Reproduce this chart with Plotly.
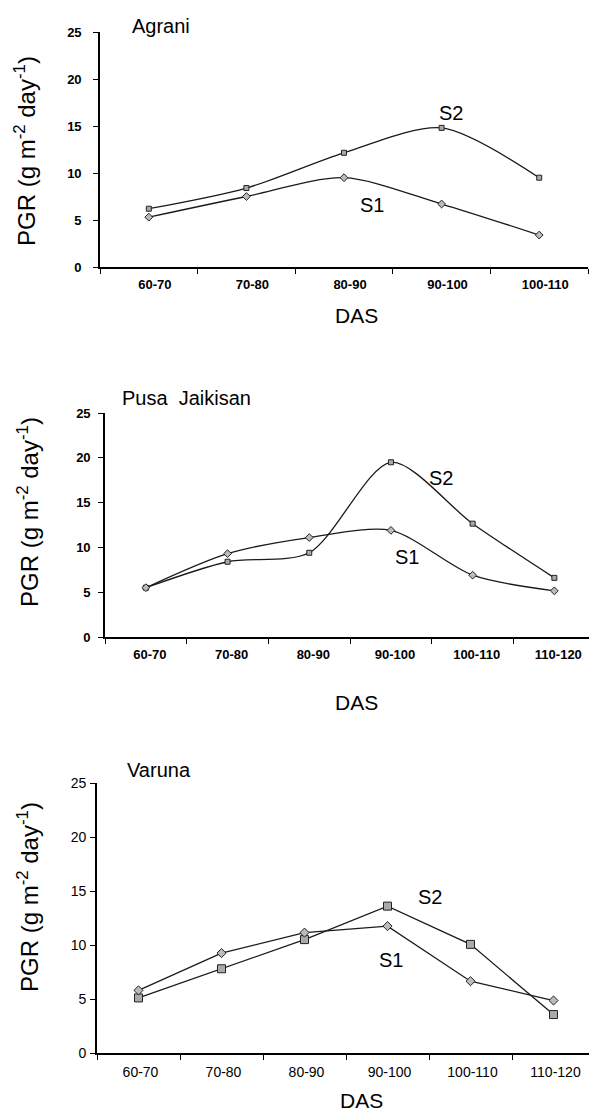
import plotly.graph_objects as go

W, H = 589, 1114

# ---- data ----
cats_a = ["60-70", "70-80", "80-90", "90-100", "100-110"]
agrani_s1 = [5.3, 7.5, 9.5, 6.7, 3.4]
agrani_s2 = [6.2, 8.4, 12.15, 14.8, 9.5]

cats_p = ["60-70", "70-80", "80-90", "90-100", "100-110", "110-120"]
pusa_s1 = [5.5, 9.3, 11.1, 11.9, 6.9, 5.15]
pusa_s2 = [5.5, 8.4, 9.4, 19.5, 12.65, 6.6]

cats_v = ["60-70", "70-80", "80-90", "90-100", "100-110", "110-120"]
varuna_s1 = [5.8, 9.25, 11.15, 11.75, 6.65, 4.86]
varuna_s2 = [5.1, 7.8, 10.5, 13.6, 10.06, 3.56]

y_ticks = [0, 5, 10, 15, 20, 25]

SANS = "Liberation Sans, Arial"

# ---- layout geometry (pixels) ----
panels = [
    dict(name="Agrani", cats=cats_a, s1=agrani_s1, s2=agrani_s2,
         x0=100, x1=588, catw=97.6, ytop=32, ybot=267, shape="spline",
         tickfont=dict(family=SANS, size=13, color="black", weight="bold"),
         xstand=5, ystand=9, shift=6,
         title_xy=(130, 26), s2_xy=(451, 113), s1_xy=(372, 205), das_xy=(357, 315), pgr_xy=(25, 151),
         msize=(6, 5)),
    dict(name="Pusa  Jaikisan", cats=cats_p, s1=pusa_s1, s2=pusa_s2,
         x0=105, x1=589, catw=81.7, ytop=413, ybot=637, shape="spline",
         tickfont=dict(family=SANS, size=13, color="black", weight="bold"),
         xstand=5, ystand=5, shift=4,
         title_xy=(120, 398), s2_xy=(441, 478), s1_xy=(407, 557), das_xy=(356, 702), pgr_xy=(28, 512),
         msize=(6, 5)),
    dict(name="Varuna", cats=cats_v, s1=varuna_s1, s2=varuna_s2,
         x0=97, x1=589, catw=83.0, ytop=783, ybot=1053, shape="linear",
         tickfont=dict(family=SANS, size=14, color="black"),
         xstand=5, ystand=1, shift=2,
         title_xy=(125, 770), s2_xy=(430, 897), s1_xy=(391, 960), das_xy=(361, 1100), pgr_xy=(28, 897),
         msize=(7, 8)),
]

fig = go.Figure()
annotations = []
layout_axes = {}


def ann(text, px, py, font, angle=0, xanchor="center"):
    return dict(text=text, x=px / W, y=1 - py / H, xref="paper", yref="paper",
                xanchor=xanchor, yanchor="middle", showarrow=False, textangle=angle, font=font)


for i, p in enumerate(panels):
    k = "" if i == 0 else str(i + 1)
    xref, yref = "x" + k, "y" + k
    if p["shape"] == "spline":
        lineargs = dict(color="#1a1a1a", width=1.3, shape="spline", smoothing=0.8)
    else:
        lineargs = dict(color="#1a1a1a", width=1.3)
    fig.add_trace(go.Scatter(
        x=p["cats"], y=p["s2"], mode="lines+markers", xaxis=xref, yaxis=yref,
        line=lineargs, showlegend=False,
        marker=dict(symbol="square", size=p["msize"][1], color="#aaa", line=dict(color="#222", width=1))))
    fig.add_trace(go.Scatter(
        x=p["cats"], y=p["s1"], mode="lines+markers", xaxis=xref, yaxis=yref,
        line=lineargs, showlegend=False,
        marker=dict(symbol="diamond", size=p["msize"][0], color="#bbb", line=dict(color="#222", width=1))))

    xd = [p["x0"] / W, p["x1"] / W]
    yd = [1 - p["ybot"] / H, 1 - p["ytop"] / H]
    xmax = -0.5 + (p["x1"] - p["x0"]) / p["catw"]
    layout_axes["xaxis" + k] = dict(
        domain=xd, anchor=yref, type="category", range=[-0.5, xmax],
        showline=True, linecolor="black", linewidth=1.8, ticks="outside", ticklen=5,
        tickcolor="black", tickson="boundaries", showgrid=False, zeroline=False,
        tickfont=p["tickfont"], ticklabelstandoff=p["xstand"], ticklabelshift=p["shift"],
        automargin=False, fixedrange=True)
    layout_axes["yaxis" + k] = dict(
        domain=yd, anchor=xref, range=[0, 25], tickvals=y_ticks,
        showline=True, linecolor="black", linewidth=1.8, ticks="outside", ticklen=5,
        tickcolor="black", showgrid=False, zeroline=False, tickfont=p["tickfont"],
        ticklabelstandoff=p["ystand"], automargin=False, fixedrange=True)

    annotations += [
        ann(p["name"], p["title_xy"][0], p["title_xy"][1], dict(family=SANS, size=20, color="black"),
            xanchor="left"),
        ann("S2", p["s2_xy"][0], p["s2_xy"][1], dict(family=SANS, size=20, color="black")),
        ann("S1", p["s1_xy"][0], p["s1_xy"][1], dict(family=SANS, size=20, color="black")),
        ann("DAS", p["das_xy"][0], p["das_xy"][1], dict(family=SANS, size=21, color="black")),
        ann("PGR (g m<sup>-2</sup> day<sup>-1</sup>)", p["pgr_xy"][0], p["pgr_xy"][1],
            dict(family=SANS, size=24, color="black"), angle=-90),
    ]

fig.update_layout(
    width=W, height=H, margin=dict(l=0, r=0, t=0, b=0, pad=0, autoexpand=False),
    paper_bgcolor="white", plot_bgcolor="white",
    annotations=annotations, **layout_axes)

fig.write_html(
    "out.html",
    config={"displayModeBar": False, "staticPlot": True},
    post_script="document.body.style.margin='0';document.body.style.overflow='hidden';"
                "document.documentElement.style.overflow='hidden';",
)
